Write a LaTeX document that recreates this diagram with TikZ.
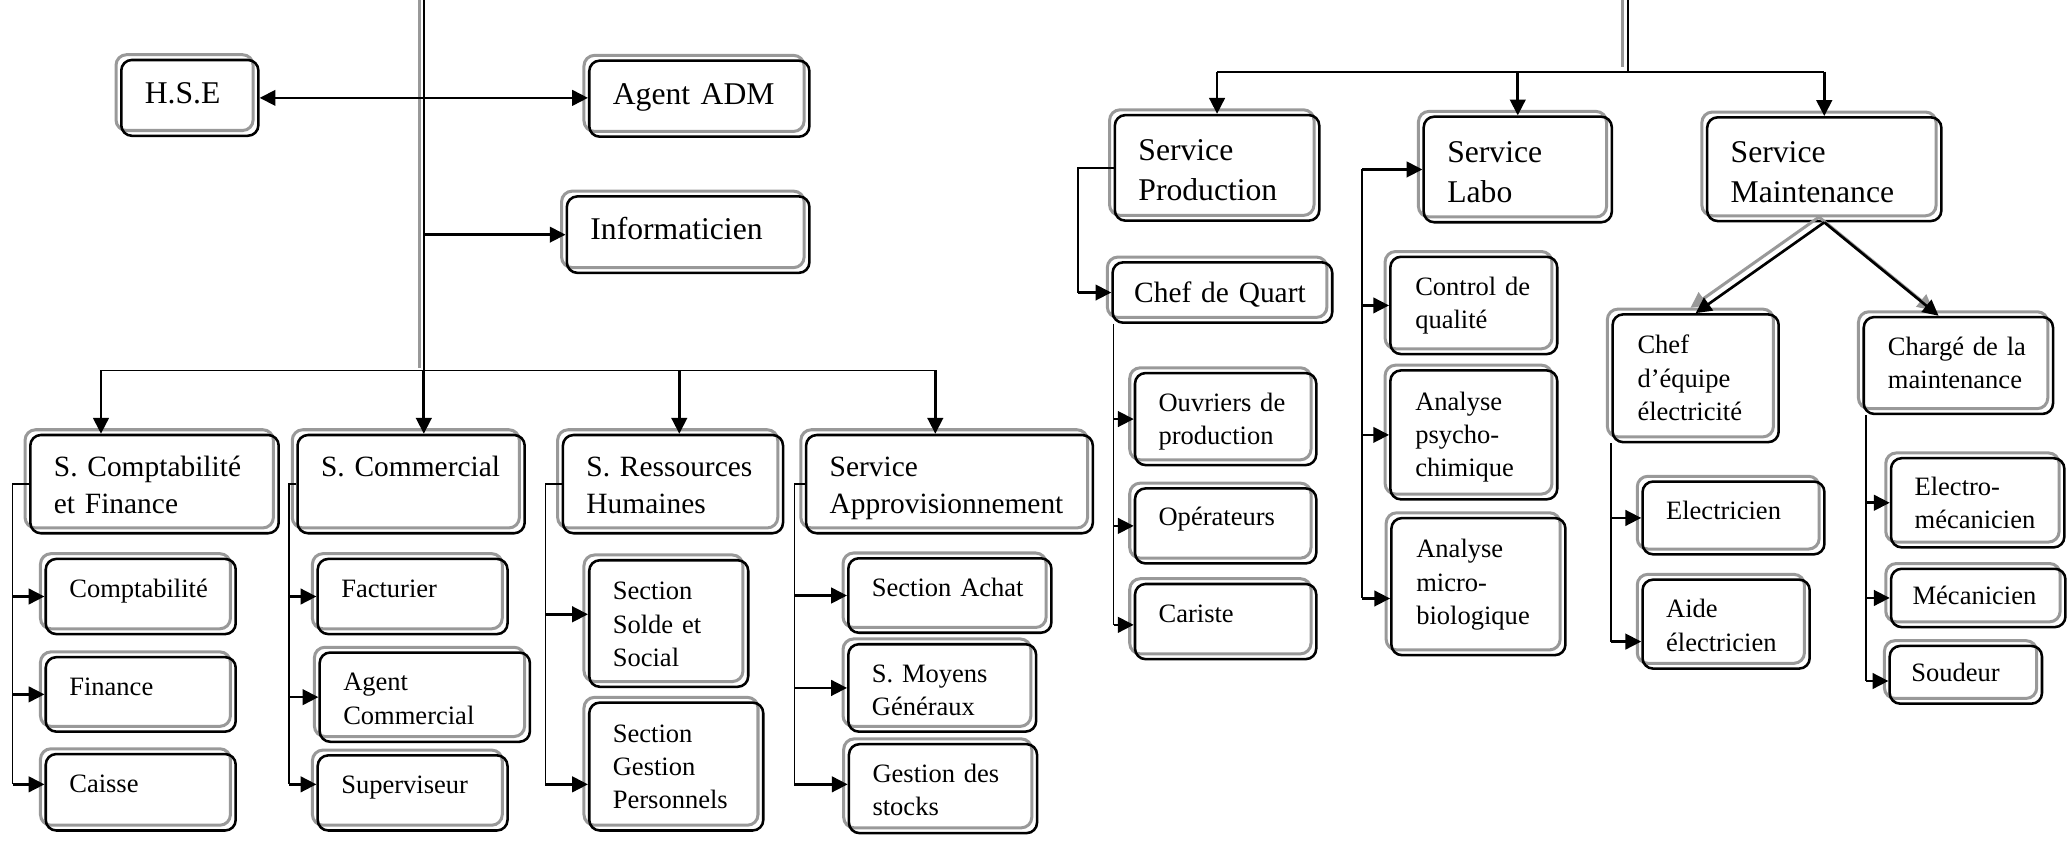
\documentclass[tikz,border=0pt]{standalone}
\usepackage{fontspec}
\setmainfont{Liberation Serif}
\usetikzlibrary{arrows.meta,fit}

\begin{document}
\begin{tikzpicture}[x=0.2mm, y=-0.2mm,
        >={Triangle[length=2.4mm,width=2.35mm]},
        box/.style={draw, line width=1.1pt, rounded corners=1.6mm, inner sep=0pt,
            preaction={draw=black!40, line width=1.3pt, transform canvas={shift={(-0.8mm,0.8mm)}}}},
        bigtxt/.style={anchor=base west, inner sep=0pt, text width=4cm, align=left,
            font=\fontsize{13.66pt}{17.4pt}\selectfont},
        midtxt/.style={anchor=base west, inner sep=0pt, text width=4cm, align=left,
            font=\fontsize{12.7pt}{15.9pt}\selectfont},
        smalltxt/.style={anchor=base west, inner sep=0pt, text width=4cm, align=left,
            font=\fontsize{11.45pt}{14.4pt}\selectfont},
        link/.style={line width=0.7pt},
        feed/.style={line width=1.15pt},
        shade/.style={draw=black!40, line width=1.3pt}]
    \useasboundingbox (0,0) rectangle (1568,639);

    % Direction
    \node[box, fit={(92,45.5) (196,103)}] (hse) {};
    \node[bigtxt] (hse-t) at ([shift={(18.5,34)}]hse.north west) {H.S.E};
    \node[box, fit={(447,46) (614,103.7)}] (adm) {};
    \node[bigtxt] (adm-t) at ([shift={(18.5,34)}]adm.north west) {Agent ADM};
    \node[box, fit={(430,149) (614,207)}] (info) {};
    \node[bigtxt] (info-t) at ([shift={(18.5,34)}]info.north west) {Informaticien};

    % Services administratifs
    \node[box, fit={(23,330) (211.4,404.5)}] (compta) {};
    \node[midtxt] (compta-t) at ([shift={(18.5,32.5)}]compta.north west) {S. Comptabilit\'e\\et Finance};
    \node[box, fit={(225.7,330) (398,404.5)}] (comm) {};
    \node[midtxt] (comm-t) at ([shift={(18.5,32.5)}]comm.north west) {S. Commercial};
    \node[box, fit={(427,330) (594,404.5)}] (rh) {};
    \node[midtxt] (rh-t) at ([shift={(18.5,32.5)}]rh.north west) {S. Ressources\\Humaines};
    \node[box, fit={(611.5,330) (829,404.5)}] (appro) {};
    \node[midtxt] (appro-t) at ([shift={(18.5,32.5)}]appro.north west) {Service\\Approvisionnement};

    % Sections
    \node[box, fit={(34.7,424) (178.8,481)}] (cpt) {};
    \node[smalltxt] (cpt-t) at ([shift={(18.5,30)}]cpt.north west) {Comptabilit\'e};
    \node[box, fit={(34.7,498.5) (178.8,555)}] (fin) {};
    \node[smalltxt] (fin-t) at ([shift={(18.5,30)}]fin.north west) {Finance};
    \node[box, fit={(34.7,572) (178.8,630)}] (caisse) {};
    \node[smalltxt] (caisse-t) at ([shift={(18.5,30)}]caisse.north west) {Caisse};

    \node[box, fit={(241,424) (385,481)}] (fact) {};
    \node[smalltxt] (fact-t) at ([shift={(18.5,30)}]fact.north west) {Facturier};
    \node[box, fit={(242.5,495) (402,562.7)}] (agc) {};
    \node[smalltxt] (agc-t) at ([shift={(18.5,30)}]agc.north west) {Agent\\Commercial};
    \node[box, fit={(241,573) (385,630)}] (sup) {};
    \node[smalltxt] (sup-t) at ([shift={(18.5,30)}]sup.north west) {Superviseur};

    \node[box, fit={(447,425) (567.6,521)}] (solde) {};
    \node[smalltxt] (solde-t) at ([shift={(18.5,31)}]solde.north west) {Section\\Solde et\\Social};
    \node[box, fit={(447,533) (579,630)}] (pers) {};
    \node[smalltxt] (pers-t) at ([shift={(18.5,31)}]pers.north west) {Section\\Gestion\\Personnels};

    \node[box, fit={(643.5,423.5) (797.6,480)}] (achat) {};
    \node[smalltxt] (achat-t) at ([shift={(18.5,30)}]achat.north west) {Section Achat};
    \node[box, fit={(643.5,488.7) (786,555)}] (moyens) {};
    \node[smalltxt] (moyens-t) at ([shift={(18.5,30)}]moyens.north west) {S. Moyens\\G\'en\'eraux};
    \node[box, fit={(644,564.5) (786.7,632)}] (stocks) {};
    \node[smalltxt] (stocks-t) at ([shift={(18.5,30)}]stocks.north west) {Gestion des\\stocks};

    % Services techniques
    \node[box, fit={(845.7,87.3) (1000.8,167.4)}] (prod) {};
    \node[bigtxt] (prod-t) at ([shift={(18.5,35.5)}]prod.north west) {Service\\Production};
    \node[box, fit={(1080,88.5) (1222.7,168.6)}] (labo) {};
    \node[bigtxt] (labo-t) at ([shift={(18.5,35.5)}]labo.north west) {Service\\Labo};
    \node[box, fit={(1295,89) (1472.7,167.7)}] (maint) {};
    \node[bigtxt] (maint-t) at ([shift={(18.5,35)}]maint.north west) {Service\\Maintenance};

    \node[box, fit={(844,199) (1010.6,244.8)}] (quart) {};
    \node[midtxt] (quart-t) at ([shift={(17,31.5)}]quart.north west) {Chef de Quart};
    \node[box, fit={(861,283) (998.5,352.8)}] (ouv) {};
    \node[smalltxt] (ouv-t) at ([shift={(18.5,30)}]ouv.north west) {Ouvriers de\\production};
    \node[box, fit={(861,370.5) (998.5,427.4)}] (oper) {};
    \node[smalltxt] (oper-t) at ([shift={(18.5,29)}]oper.north west) {Op\'erateurs};
    \node[box, fit={(861,443) (998.5,500)}] (car) {};
    \node[smalltxt] (car-t) at ([shift={(18.5,30)}]car.north west) {Cariste};

    \node[box, fit={(1054.7,194.8) (1181.3,268.6)}] (ctrl) {};
    \node[smalltxt] (ctrl-t) at ([shift={(19.5,30)}]ctrl.north west) {Control de\\qualit\'e};
    \node[box, fit={(1054.7,281) (1181.3,378.8)}] (psy) {};
    \node[smalltxt] (psy-t) at ([shift={(19.5,31)}]psy.north west) {Analyse\\psycho-\\chimique};
    \node[box, fit={(1055.5,393) (1187.5,497)}] (micro) {};
    \node[smalltxt] (micro-t) at ([shift={(19.5,31)}]micro.north west) {Analyse\\micro-\\biologique};

    \node[box, fit={(1223.3,238.5) (1349.3,335.4)}] (chef) {};
    \node[smalltxt] (chef-t) at ([shift={(19.5,31)}]chef.north west) {Chef\\d’\'equipe\\\'electricit\'e};
    \node[box, fit={(1246,365.3) (1384,420.5)}] (elec) {};
    \node[smalltxt] (elec-t) at ([shift={(18.5,29.5)}]elec.north west) {Electricien};
    \node[box, fit={(1246,439.7) (1372.8,507.2)}] (aide) {};
    \node[smalltxt] (aide-t) at ([shift={(18.5,30)}]aide.north west) {Aide\\\'electricien};

    \node[box, fit={(1413.8,240.5) (1557.4,314)}] (charge) {};
    \node[smalltxt] (charge-t) at ([shift={(19,30)}]charge.north west) {Charg\'e de la\\maintenance};
    \node[box, fit={(1434.5,347.6) (1566,415.2)}] (electro) {};
    \node[smalltxt] (electro-t) at ([shift={(18.5,29)}]electro.north west) {Electro-\\m\'ecanicien};
    \node[box, fit={(1434.5,431.5) (1566.8,475.7)}] (meca) {};
    \node[smalltxt] (meca-t) at ([shift={(17,28)}]meca.north west) {M\'ecanicien};
    \node[box, fit={(1433.5,490) (1549,533.8)}] (soud) {};
    \node[smalltxt] (soud-t) at ([shift={(17,28)}]soud.north west) {Soudeur};

    % Liaisons gauche
    \coordinate (topL) at (321.5,0);
    \coordinate (busL) at (321.5,281);
    \coordinate (busA) at (76.6,281);
    \coordinate (busC) at (515.3,281);
    \coordinate (busD) at (709.5,281);
    \draw[shade] ([xshift=-0.7mm]topL) -- ([xshift=-0.7mm,yshift=0.4mm]busL);
    \draw[link] (topL) -- (busL);
    \draw[link] (busA) -- (busD);
    \draw[feed,<->] (hse.east) -- (hse.east -| adm.west);
    \draw[feed,->] (topL |- info.west) -- (info.west);
    \draw[feed,->] (busA) -- (busA |- compta.north);
    \draw[feed,->] (busL) -- (busL |- comm.north);
    \draw[feed,->] (busC) -- (busC |- rh.north);
    \draw[feed,->] (busD) -- (busD |- appro.north);

    \coordinate (s1) at (9.5,595);
    \draw[link] (compta.west) -| (s1);
    \draw[feed,->] (s1 |- cpt.west) -- (cpt.west);
    \draw[feed,->] (s1 |- fin.west) -- (fin.west);
    \draw[feed,->] (s1) -- (s1 -| caisse.west);

    \coordinate (s2) at (219,595);
    \draw[link] (comm.west) -| (s2);
    \draw[feed,->] (s2 |- fact.west) -- (fact.west);
    \draw[feed,->] (s2 |- agc.west) -- (agc.west);
    \draw[feed,->] (s2) -- (s2 -| sup.west);

    \coordinate (s3) at (413.8,595);
    \draw[link] (rh.west) -| (s3);
    \draw[feed,->] ([yshift=1.4mm]s3 |- solde.west) -- ([yshift=1.4mm]solde.west);
    \draw[feed,->] (s3) -- (s3 -| pers.west);

    \coordinate (s4) at (602.6,595);
    \draw[link] (appro.west) -| (s4);
    \draw[feed,->] (s4 |- achat.west) -- (achat.west);
    \draw[feed,->] (s4 |- moyens.west) -- (moyens.west);
    \draw[feed,->] (s4) -- (s4 -| stocks.west);

    % Liaisons droite
    \coordinate (topR) at (1234.8,0);
    \coordinate (busR) at (1234.8,54.4);
    \draw[shade] ([xshift=-0.8mm]topR) -- ([xshift=-0.8mm,yshift=0.76mm]busR);
    \draw[link] (topR) -- (busR);
    \draw[link] (busR -| prod.north) -- (busR -| maint.north);
    \draw[feed,->] (busR -| prod.north) -- (prod.north);
    \draw[feed,->] (busR -| labo.north) -- (labo.north);
    \draw[feed,->] (busR -| maint.north) -- (maint.north);

    \coordinate (pq) at (817.7,0);
    \draw[link] (prod.west) -| (pq |- quart.west);
    \draw[feed,->] (pq |- quart.west) -- (quart.west);

    \coordinate (s5) at (844.8,474);
    \draw[link] (s5 |- quart.south) -- (s5);
    \draw[feed,->] (s5 |- ouv.west) -- (ouv.west);
    \draw[feed,->] (s5 |- oper.west) -- (oper.west);
    \draw[feed,->] (s5) -- (s5 -| car.west);

    \coordinate (s6) at (1033,454);
    \draw[link] (s6 |- labo.west) -- (s6);
    \draw[feed,->] (s6 |- labo.west) -- (labo.west);
    \draw[feed,->] (s6 |- ctrl.west) -- (ctrl.west);
    \draw[feed,->] (s6 |- psy.west) -- (psy.west);
    \draw[feed,->] (s6) -- (s6 -| micro.west);

    \draw[shade,->] ([shift={(-4,-4)}]maint.south) -- ([shift={(-4,-4)}]chef.north);
    \draw[shade,->] ([shift={(-4,-4)}]maint.south) -- ([shift={(-19,-4)}]charge.north);
    \draw[feed,->] (maint.south) -- (chef.north);
    \draw[feed,->] (maint.south) -- ([xshift=-3mm]charge.north);

    \coordinate (s7) at (1222.3,486.7);
    \draw[link] (s7 |- chef.south) -- (s7);
    \draw[feed,->] (s7 |- elec.west) -- (elec.west);
    \draw[feed,->] (s7) -- (s7 -| aide.west);

    \coordinate (s8) at (1415.5,516.6);
    \draw[link] (s8 |- charge.south) -- (s8);
    \draw[feed,->] (s8 |- electro.west) -- (electro.west);
    \draw[feed,->] (s8 |- meca.west) -- (meca.west);
    \draw[feed,->] (s8) -- (s8 -| soud.west);
\end{tikzpicture}
\end{document}
